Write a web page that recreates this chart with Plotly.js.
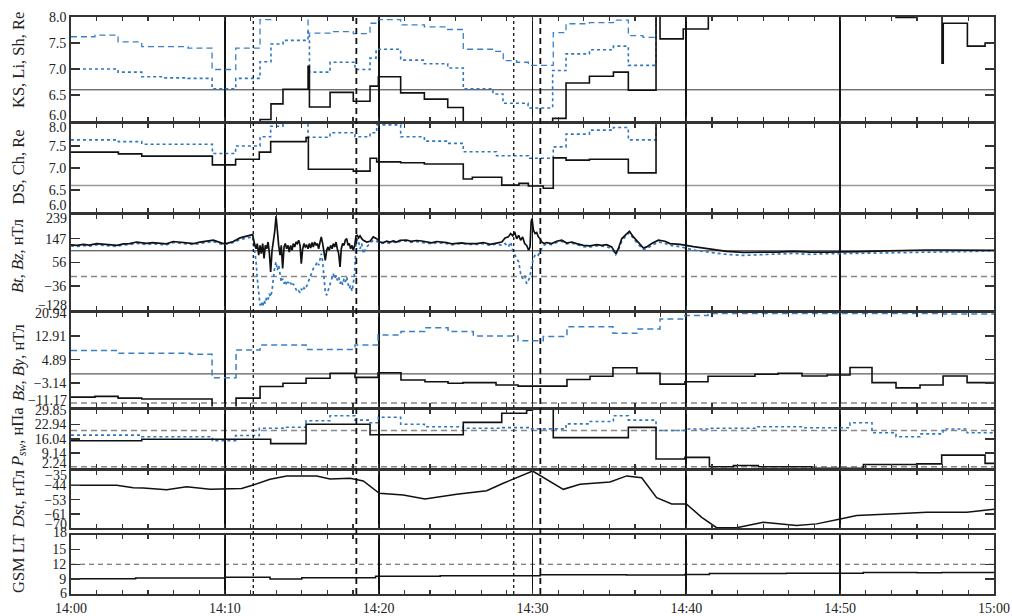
<!DOCTYPE html>
<html><head><meta charset="utf-8">
<script src="https://cdn.plot.ly/plotly-3.0.1.min.js"></script>
<style>html,body{margin:0;padding:0;background:#fff}#chart{width:1012px;height:616px}</style>
</head><body><div id="chart"></div>
<script>
// ---------- DATA (time = minutes after 14:00 UT) ----------
const timeTickVals = [0, 10, 20, 30, 40, 50, 60];
const timeTickText = ['14:00', '14:10', '14:20', '14:30', '14:40', '14:50', '15:00'];
const eventTimes = [11.85, 18.55, 28.78, 30.51];
const eventStyle = ['dot', 'dash', 'dot', 'dash'];

// Panel 1: KS, Li, Sh (Re)
const ksT = [0, 12.29, 13.0, 13.78, 15.41, 15.5, 16.84, 18.35, 19.44, 19.98, 21.43, 22.97, 24.49, 25.5, 31.31, 32.18, 33.7, 35.26, 36.23, 38.03, 38.29, 39.8, 41.43, 53.63, 54.87, 56.62, 56.7, 58.27, 59.42, 60];
const ksV = [5.5, 6.03, 6.33, 6.61, 7.05, 6.27, 6.55, 6.38, 6.67, 6.85, 6.54, 6.42, 6.26, 5.5, 6.05, 6.73, 6.86, 6.94, 6.59, 8.5, 7.58, 7.77, 8.5, 7.99, 8.5, 7.11, 7.88, 7.44, 7.5, 7.5];
const liT = [0, 3.06, 4.60, 6.05, 7.61, 9.17, 10.71, 12.29, 13.0, 13.78, 15.41, 15.5, 16.84, 18.46, 19.44, 19.83, 21.43, 22.97, 24.49, 25.5, 27.43, 28.08, 29.71, 31.31, 32.18, 33.7, 35.26, 36.23, 38.03, 60];
const liV = [7.0, 6.94, 6.85, 6.83, 6.82, 6.62, 6.82, 7.14, 7.48, 7.55, 7.72, 6.94, 7.13, 6.99, 7.21, 7.38, 7.17, 7.10, 7.02, 6.62, 6.52, 6.34, 6.25, 6.97, 7.29, 7.37, 7.44, 7.07, 8.5, 8.5];
const shT = [0, 1.56, 3.06, 4.60, 7.61, 9.17, 10.71, 12.29, 13.0, 15.41, 16.84, 18.35, 19.44, 19.98, 21.43, 22.97, 24.49, 25.5, 27.45, 28.1, 28.97, 29.73, 31.35, 32.18, 33.7, 35.26, 36.23, 37.18, 38.03, 60];
const shV = [7.62, 7.65, 7.52, 7.43, 7.40, 6.99, 7.40, 7.95, 8.5, 7.69, 7.72, 7.68, 7.88, 7.95, 7.85, 7.81, 7.76, 7.38, 7.34, 7.16, 7.13, 7.07, 7.70, 7.87, 7.89, 7.94, 7.64, 7.61, 8.5, 8.5];
const ksTicks = [6, 6.5, 7, 7.5, 8];
const ksLabels = ['6.0', '6.5', '7.0', '7.5', '8.0'];

// Panel 2: DS, Ch (Re)
const dsT = [0, 3.08, 4.6, 9.19, 10.7, 12.24, 12.98, 15.28, 15.43, 18.35, 19.44, 19.87, 21.43, 22.97, 25.5, 26.09, 28.0, 29.12, 29.73, 30.7, 31.35, 32.18, 33.7, 36.23, 38.03, 60];
const dsV = [7.36, 7.32, 7.27, 7.07, 7.20, 7.36, 7.60, 7.69, 6.97, 6.93, 7.22, 7.14, 7.12, 7.09, 6.75, 6.79, 6.61, 6.65, 6.59, 6.54, 7.23, 7.18, 7.20, 6.89, 8.5, 8.5];
const chT = [0, 3.08, 4.6, 9.19, 10.7, 12.29, 12.98, 13.78, 15.41, 16.84, 18.46, 19.44, 19.87, 21.43, 22.97, 24.49, 25.5, 27.66, 29.73, 31.35, 32.18, 33.7, 35.26, 36.23, 38.03, 60];
const chV = [7.64, 7.60, 7.54, 7.33, 7.50, 7.71, 7.95, 8.5, 7.70, 7.80, 7.71, 7.80, 7.98, 7.71, 7.61, 7.56, 7.37, 7.28, 7.22, 7.48, 7.77, 7.86, 7.92, 7.64, 8.5, 8.5];
const dsTicks = [6, 6.5, 7, 7.5, 8];
const dsLabels = ['6.0', '6.5', '7.0', '7.5', '8.0'];

// Panel 3: Bt, Bz (nT)
const tB = [0, 0.4, 0.8, 1.2, 1.67, 2.1, 2.53, 3.0, 3.4, 3.8, 4.27, 4.92, 5.3, 5.79, 6.2, 6.65, 7.1, 7.52, 8.0, 8.39, 8.8, 9.25, 9.9, 10.2, 10.55,
 10.99, 11.81, 11.90, 12.03, 12.11, 12.20, 12.29, 12.37, 12.46, 12.55, 12.63, 12.72, 12.81, 12.89, 12.98, 13.07, 13.15, 13.24, 13.33, 13.41, 13.50, 13.59, 13.67,
 13.76, 13.85, 13.93, 14.02, 14.11, 14.19, 14.28, 14.37, 14.45, 14.54, 14.63, 14.71, 14.80, 14.89, 14.97, 15.06, 15.15, 15.23, 15.32, 15.41,
 15.49, 15.58, 15.67, 15.75, 15.84, 15.93, 16.01, 16.10, 16.19, 16.27, 16.36, 16.45, 16.53, 16.62, 16.71, 16.79, 16.88, 16.97, 17.05, 17.14,
 17.23, 17.31, 17.40, 17.49, 17.57, 17.66, 17.75, 17.83, 17.92, 18.01, 18.09, 18.18, 18.27, 18.35, 18.44, 18.53, 18.61, 18.70, 18.79,
 18.90, 19.00, 19.22, 19.44, 19.65, 19.87, 20.09, 20.30, 20.52, 20.74, 20.95, 21.17, 21.39,
 21.82, 22.1, 22.47, 22.8, 23.12, 23.45, 23.77, 24.1, 24.42, 24.75, 25.07, 25.4, 25.72,
 25.94, 26.37, 26.81, 27.24, 27.67, 28.0, 28.22, 28.43, 28.58, 28.71, 28.84, 28.97, 29.10, 29.23, 29.36, 29.49, 29.62, 29.75, 29.84, 29.91,
 29.97, 30.06, 30.17, 30.27, 30.38, 30.49, 30.60, 30.75, 30.92, 31.25, 31.57, 31.90, 32.22, 32.55, 32.87, 33.31, 33.74, 34.17, 34.50, 34.82,
 35.15, 35.41, 35.58, 35.80, 36.02, 36.30, 36.56, 36.88, 37.21, 37.42, 37.75, 38.18, 38.61, 38.94,
 39.59, 40.46, 41.54, 42.62, 43.71, 44.79, 45.87, 46.96, 48.04, 49.12, 50.21, 51.29, 52.37, 53.46, 54.54, 55.63, 56.71, 57.79, 58.88, 60];
const Bt = [123, 121, 125, 122, 128, 126, 124, 121, 127, 128, 134, 129, 132, 129, 127, 136, 133, 130, 128, 134, 137, 141, 128, 130, 136,
 150, 163, 134, 108, 128, 83, 121, 89, 128, 70, 121, 108, 134, 95, 18, 102, 134, 173, 235, 173, 121, 83, 121,
 31, 115, 128, 108, 121, 95, 121, 102, 128, 115, 134, 128, 141, 121, 50, 108, 128, 115, 121, 108,
 128, 111, 132, 115, 134, 121, 128, 108, 134, 154, 128, 95, 63, 102, 115, 102, 121, 108, 128, 115,
 134, 108, 89, 37, 108, 128, 121, 141, 147, 121, 128, 108, 121, 102, 121, 158, 160, 150, 158,
 147, 141, 134, 137, 154, 147, 134, 132, 137, 134, 138, 134, 141,
 142, 137, 140, 138, 134, 131, 136, 134, 132, 127, 129, 131, 128,
 128, 128, 132, 125, 130, 134, 150, 154, 167, 158, 173, 147, 160, 141, 154, 128, 121, 102, 115, 212,
 225, 180, 167, 171, 154, 147, 134, 128, 132, 128, 137, 141, 130, 134, 128, 121, 119, 124, 121, 124,
 115, 89, 108, 147, 160, 176, 154, 132, 111, 115, 128, 141, 137, 128,
 125, 116, 106, 98, 94, 94, 95, 98, 95, 95, 95, 97, 99, 101, 102, 103, 103, 102, 102, 102];
const Bz = [119, 117, 120, 118, 123, 121, 120, 117, 123, 124, 129, 124, 127, 125, 123, 132, 129, 125, 124, 129, 132, 136, 123, 126, 132,
 144, 154, 121, 57, -8, -73, -112, -99, -118, -92, -105, -79, -89, -67, -79, -54, -8, 37, 57, 24, 44, 5, -21,
 -8, -28, -15, -34, -21, -32, -24, -37, -28, -41, -50, -60, -55, -63, -47, -57, -44, -50, -37, -21,
 -8, 5, 18, 31, 37, 50, 57, 44, 70, 89, 57, 5, -60, -73, -54, -41, -21, -2, 11, -8,
 5, -15, -2, -28, -15, -32, -8, -21, -2, -28, -47, -34, -57, -28, 18, 128, 147, 134, 108,
 128, 89, 115, 128, 141, 137, 128, 130, 132, 129, 134, 130, 137,
 138, 133, 136, 134, 130, 127, 132, 130, 128, 123, 127, 128, 125,
 125, 125, 128, 121, 127, 121, 128, 115, 134, 102, 83, 70, 57, 11, -8, 5, -28, -15, -2, 31,
 44, 70, 83, 89, 83, 98, 108, 121, 127, 124, 132, 137, 127, 130, 124, 116, 115, 119, 118, 116,
 108, 85, 102, 137, 154, 171, 147, 124, 105, 108, 121, 134, 129, 121,
 116, 103, 94, 86, 82, 85, 88, 90, 86, 89, 89, 90, 92, 94, 95, 95, 97, 97, 98, 101];
const bTicks = [-128, -36.25, 55.5, 147.25, 239];
const bLabels = ['−128', '−36', '56', '147', '239'];

// Panel 4: Bz, By (nT)
const bzT = [0, 1.56, 3.06, 4.6, 9.17, 10.73, 12.29, 13.78, 15.28, 16.84, 18.46, 19.96, 21.45, 23.01, 24.51, 25.48, 27.63, 29.06, 32.24, 33.74, 35.23, 36.79, 38.29, 39.91, 41.41, 44.46, 45.96, 47.52, 49.15, 50.64, 52.07, 53.63, 55.19, 56.69, 58.25, 60];
const bzV = [-7.95, -7.7, -8.3, -8.6, -14, -8.3, -4.3, -3.2, -1.5, 0.2, -1.2, 0.4, -2.1, -2.7, -3.2, -3.0, -3.8, -4.2, -1.9, -0.8, 2.1, 0.2, -3.5, -2.7, -0.8, -0.1, 0.2, -0.7, -0.4, 2.2, -3.0, -4.8, -3.8, -0.7, -3.0, -3.0];
const byT = [0, 3.06, 7.74, 9.17, 10.73, 12.29, 15.28, 18.46, 19.96, 21.45, 23.01, 24.51, 26.15, 29.06, 30.7, 32.24, 35.23, 36.79, 38.29, 39.91, 41.41, 56.69, 60];
const byV = [8.0, 7.1, 6.7, -1.3, 8.2, 9.9, 8.4, 9.9, 13.3, 14.5, 15.8, 14.5, 13.0, 11.4, 12.8, 16.2, 13.9, 15.4, 18.8, 20.0, 20.7, 20.5, 20.5];
const imfTicks = [-11.17, -3.1425, 4.885, 12.9125, 20.94];
const imfLabels = ['−11.17', '−3.14', '4.89', '12.91', '20.94'];

// Panel 5: Psw (nPa)
const pT = [0, 4.6, 12.98, 15.28, 19.44, 25.5, 28.0, 29.62, 30.0, 31.35, 36.23, 38.03, 39.91, 41.5, 43.06, 44.68, 48.15, 51.51, 54.98, 56.6, 59.42, 60];
const pV = [15.1, 15.8, 13.7, 23.0, 18.0, 23.9, 28.3, 29.7, 31, 16.6, 21.5, 6.3, 7.1, 2.6, 3.2, 2.6, 1.8, 3.7, 4.0, 8.2, 4.2, 4.2];
const psT = [0, 4.6, 9.19, 10.7, 12.24, 13.78, 15.28, 16.84, 18.46, 19.44, 19.98, 21.43, 22.97, 25.5, 28.0, 29.8, 32.18, 33.7, 35.26, 36.23, 38.03, 39.91, 41.41, 44.6, 47.6, 50.64, 52.07, 53.63, 55.19, 56.69, 58.25, 60];
const psV = [17.8, 17.0, 15.1, 17.6, 21.1, 21.6, 24.7, 27.1, 25.0, 23.7, 26.4, 23.0, 21.8, 21.1, 21.4, 20.8, 23.2, 24.3, 27.1, 25.0, 20.0, 20.7, 21.1, 21.8, 21.3, 23.7, 18.9, 17.0, 18.4, 20.7, 18.9, 18.9];
const pTicks = [2.24, 9.1425, 16.045, 22.9475, 29.85];
const pLabels = ['2.24', '9.14', '16.04', '22.94', '29.85'];

// Panel 6: Dst (nT)
const dstT = [0, 2.97, 4.05, 4.70, 6.22, 7.52, 9.04, 10.55, 11.09, 11.85, 12.94, 14.02, 15.97, 16.84, 18.14, 19.0, 20.04, 21.6, 23.01, 25.07, 27.02, 28.10, 30.01, 32.0, 33.09, 35.04, 36.12, 37.10, 38.07, 39.05, 40.0, 41.0, 41.97, 43.27, 45.0, 47.17, 48.47, 50.01, 51.07, 54.33, 55.63, 58.23, 60];
const dstV = [-43.7, -43.7, -45.2, -45.4, -46.4, -44.6, -46.1, -46.1, -45.7, -43.5, -40.1, -38.0, -38.0, -39.9, -39.5, -41.1, -48.6, -49.6, -52.1, -49.2, -47.0, -42.5, -35.0, -46.2, -43.1, -41.7, -38.0, -39.1, -51.3, -55.1, -55.1, -63.3, -69.6, -69.6, -66.3, -68.3, -67.3, -64.3, -62.2, -60.8, -60.2, -60.2, -58.4];
const dstTicks = [-70, -61.25, -52.5, -43.75, -35];
const dstLabels = ['−70', '−61', '−53', '−44', '−35'];

// Panel 7: GSM LT (h)
const gsmT = [0, 4.2, 10.0, 12.94, 15.0, 19.0, 19.8, 24.0, 30.5, 36.1, 39.9, 41.5, 46.5, 51.5, 55.0, 56.6, 60];
const gsmV = [9.1, 9.24, 9.37, 9.04, 9.3, 9.3, 9.56, 9.7, 9.9, 9.85, 9.95, 10.15, 10.2, 10.35, 10.3, 10.35, 10.35];
const ltTicks = [6, 9, 12, 15, 18];
const ltLabels = ['6', '9', '12', '15', '18'];

// ---------- PLOT ----------
const FONT = 'Liberation Serif, "Times New Roman", serif';
const BLACK = '#111111';
const BLUE_DOT = '#2f77c0';
const BLUE_DASH = '#3a80c6';
const AX = '#333333';
const PT = 17, PB = 594;               // plot area top / bottom in px
const py = px => (PB - px) / (PB - PT);  // px -> paper fraction

const panels = [
  {range: [6, 8], px: [17, 121], ticks: ksTicks, labels: ksLabels, title: 'KS, Li, Sh, Re', tpx: 60, edge: [6, 0]},
  {range: [6, 8], px: [124, 212], ticks: dsTicks, labels: dsLabels, title: 'DS, Ch, Re', tpx: 167.5, edge: [7, -3.7]},
  {range: [-128, 239], px: [215, 309.5], ticks: bTicks, labels: bLabels, title: '<i>Bt</i>, <i>Bz</i>, нТл', tpx: 256, edge: [4, -3]},
  {range: [-11.17, 20.94], px: [312.8, 406.5], ticks: imfTicks, labels: imfLabels, title: '<i>Bz</i>, <i>By</i>, нТл', tpx: 363, edge: [6, -1]},
  {range: [2.0, 29.85], px: [410, 468], ticks: pTicks, labels: pLabels, title: '<i>P<sub>sw</sub></i>, нПа', tpx: 437, edge: [4, 0]},
  {range: [-70, -35], px: [471, 528.3], ticks: dstTicks, labels: dstLabels, title: '<i>Dst</i>, нТл', tpx: 499.5, edge: [4, -4]},
  {range: [6, 18], px: [534.5, 594], ticks: ltTicks, labels: ltLabels, title: 'GSM LT', tpx: 564, edge: [1, 2]}
];

function ax(i) { return i === 0 ? '' : String(i + 1); }

function line(x, y, i, color, dash, width, shape) {
  return {x: x, y: y, xaxis: 'x' + ax(i), yaxis: 'y' + ax(i), type: 'scatter', mode: 'lines',
    line: {color: color, dash: dash, width: width, shape: shape}, hoverinfo: 'skip'};
}

const traces = [
  line(shT, shV, 0, BLUE_DASH, '6px,4px', 1.3, 'hv'),
  line(liT, liV, 0, BLUE_DOT, 'dot', 1.6, 'hv'),
  line(ksT, ksV, 0, BLACK, 'solid', 1.6, 'hv'),
  line(chT, chV, 1, BLUE_DOT, 'dot', 1.6, 'hv'),
  line(dsT, dsV, 1, BLACK, 'solid', 1.6, 'hv'),
  line(tB, Bz, 2, BLUE_DOT, 'dot', 1.7, 'linear'),
  line(tB, Bt, 2, BLACK, 'solid', 1.7, 'linear'),
  line(byT, byV, 3, BLUE_DASH, '6px,4px', 1.5, 'hv'),
  line(bzT, bzV, 3, BLACK, 'solid', 1.6, 'hv'),
  line(psT, psV, 4, BLUE_DOT, 'dot', 1.6, 'hv'),
  line(pT, pV, 4, BLACK, 'solid', 1.6, 'hv'),
  line(dstT, dstV, 5, BLACK, 'solid', 1.5, 'linear'),
  line(gsmT, gsmV, 6, BLACK, 'solid', 1.5, 'hv')
];

const layout = {
  width: 1012, height: 616,
  margin: {l: 71, r: 18, t: PT, b: 616 - PB},
  paper_bgcolor: '#fff', plot_bgcolor: '#fff',
  showlegend: false,
  font: {family: FONT, size: 14, color: '#222'},
  shapes: [], annotations: []
};

panels.forEach((p, i) => {
  const n = p.ticks.length;
  const xa = {
    domain: [0, 1], range: [0, 60], anchor: 'y' + ax(i),
    showline: true, linewidth: 2, linecolor: AX, mirror: 'ticks',
    ticks: 'inside', ticklen: 4, tickwidth: 1.2, tickcolor: AX,
    tickmode: 'array', tickvals: timeTickVals, ticktext: timeTickText,
    showticklabels: i === 6,
    tickfont: {family: FONT, size: 14, color: '#222'},
    showgrid: true, gridcolor: BLACK, gridwidth: 1.8, zeroline: false,
    minor: {tickmode: 'linear', tick0: 0, dtick: 10 / 6, ticks: 'inside', ticklen: 4, tickwidth: 1.2, tickcolor: AX, showgrid: false},
    fixedrange: true
  };
  const ya = {
    domain: [py(p.px[1]), py(p.px[0])], range: p.range, anchor: 'x' + ax(i),
    showline: true, linewidth: 2, linecolor: AX, mirror: 'ticks',
    ticks: 'inside', ticklen: 9, tickwidth: 1.5, tickcolor: AX,
    tickmode: 'array', tickvals: p.ticks.slice(1, n - 1), ticktext: p.labels.slice(1, n - 1),
    tickfont: {family: FONT, size: 14, color: '#222'},
    showgrid: false, zeroline: false, fixedrange: true
  };
  layout['xaxis' + ax(i)] = xa;
  layout['yaxis' + ax(i)] = ya;
  // edge tick labels, nudged inside the panel as in the original
  [[0, p.edge[0]], [n - 1, p.edge[1]]].forEach(([k, sh]) => {
    layout.annotations.push({xref: 'paper', x: 0, xanchor: 'right', xshift: -3,
      yref: 'y' + ax(i), y: p.ticks[k], yanchor: 'middle', yshift: sh, borderpad: 0,
      text: p.labels[k], showarrow: false, font: {family: FONT, size: 14, color: '#222'}});
  });
  // axis title
  layout.annotations.push({xref: 'paper', x: -0.0574, xanchor: 'center', yref: 'paper', y: py(p.tpx), yanchor: 'middle',
    text: p.title, textangle: -90, showarrow: false, font: {family: FONT, size: 16.5, color: '#222'}});
});

// reference levels
function hline(i, v, color, dash, width) {
  layout.shapes.push({type: 'line', layer: 'below', xref: 'paper', x0: 0, x1: 1, yref: 'y' + ax(i), y0: v, y1: v,
    line: {color: color, dash: dash, width: width}});
}
hline(0, 6.6, '#333', 'solid', 1);
hline(1, 6.6, '#999', 'solid', 1.5);
hline(2, 100, '#333', 'solid', 1);
hline(2, 0, '#888', '6px,4px', 1.5);
hline(3, 0, '#333', 'solid', 1);
hline(3, -10, '#888', '6px,4px', 1.5);
hline(4, 20, '#888', '6px,4px', 1.5);
hline(4, 2.6, '#888', '6px,4px', 1.5);
hline(6, 12, '#555', '5px,4px', 1);

// event markers through all panels
eventTimes.forEach((t, k) => {
  layout.shapes.push({type: 'line', xref: 'x7', x0: t, x1: t, yref: 'paper', y0: 0, y1: 1,
    line: {color: BLACK, dash: eventStyle[k] === 'dot' ? 'dot' : '6px,4px', width: eventStyle[k] === 'dot' ? 1.3 : 1.8}});
});

Plotly.newPlot('chart', traces, layout, {displayModeBar: false, staticPlot: true});
</script></body></html>
